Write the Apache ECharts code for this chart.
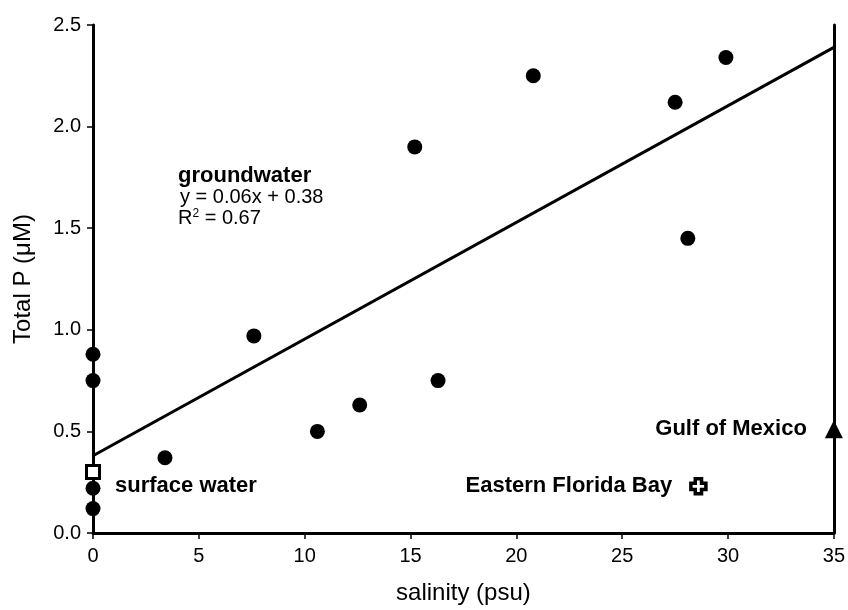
<!DOCTYPE html>
<html>
<head>
<meta charset="utf-8">
<script src="https://cdn.jsdelivr.net/npm/echarts@6/dist/echarts.min.js"></script>
<style>
html, body { margin: 0; padding: 0; background: #fff; }
#chart { width: 848px; height: 610px; }
</style>
</head>
<body>
<div id="chart"></div>
<script>
// groundwater samples: [salinity, total P]
var groundwater = [
    [0, 0.88], [0, 0.75], [0, 0.22], [0, 0.12],
    [3.4, 0.37], [7.6, 0.97], [10.6, 0.50], [12.6, 0.63],
    [15.2, 1.90], [16.3, 0.75], [20.8, 2.25], [27.5, 2.12],
    [28.1, 1.45], [29.9, 2.34]
];
var surfaceWater = [[0, 0.30]];
var easternFloridaBay = [[28.6, 0.23]];
var gulfOfMexico = [[35, 0.51]];
// regression line end points (y = 0.06x + 0.38)
var fitLine = [[0, 0.38], [35, 2.39]];
var xTicks = [0, 5, 10, 15, 20, 25, 30, 35];
var yTicks = [0.0, 0.5, 1.0, 1.5, 2.0, 2.5];

var font = 'Liberation Sans, Arial, sans-serif';
var myChart = echarts.init(document.getElementById('chart'));

// thick plus sign used for the Eastern Florida Bay marker
var plusPath = 'path://M3.5,0 L8.5,0 L8.5,3.5 L12,3.5 L12,8.5 L8.5,8.5 L8.5,12 L3.5,12 L3.5,8.5 L0,8.5 L0,3.5 L3.5,3.5 Z';

var option = {
    animation: false,
    backgroundColor: '#fff',
    grid: { left: 93, right: 12, top: 25, bottom: 69, containLabel: false },
    xAxis: {
        type: 'value',
        min: xTicks[0],
        max: xTicks[xTicks.length - 1],
        interval: 5,
        name: 'salinity (psu)',
        nameLocation: 'middle',
        nameGap: 48,
        nameTextStyle: { fontFamily: font, fontSize: 24, color: '#000' },
        axisLine: { lineStyle: { color: '#000', width: 3 } },
        axisTick: { length: 6, lineStyle: { color: '#000', width: 1.5 } },
        axisLabel: { fontFamily: font, fontSize: 20, color: '#000', margin: 13 },
        splitLine: { show: false }
    },
    yAxis: [{
        type: 'value',
        min: yTicks[0],
        max: yTicks[yTicks.length - 1],
        interval: 0.5,
        name: 'Total P (\u03bcM)',
        nameLocation: 'middle',
        nameGap: 58,
        nameTextStyle: { fontFamily: font, fontSize: 24, color: '#000' },
        axisLine: { show: true, lineStyle: { color: '#000', width: 3 } },
        axisTick: { show: true, length: 6, lineStyle: { color: '#000', width: 1.5 } },
        axisLabel: {
            fontFamily: font, fontSize: 20, color: '#000', margin: 12,
            formatter: function (v) { return v.toFixed(1); }
        },
        splitLine: { show: false }
    }, {
        type: 'value',
        position: 'right',
        min: 0,
        max: 2.5,
        axisLine: { show: true, lineStyle: { color: '#000', width: 3 } },
        axisTick: { show: false },
        axisLabel: { show: false },
        splitLine: { show: false }
    }],
    series: [
        {
            type: 'line',
            data: fitLine,
            symbol: 'none',
            lineStyle: { color: '#000', width: 3 },
            z: 2
        },
        {
            type: 'scatter',
            data: groundwater,
            symbol: 'circle',
            symbolSize: 15,
            itemStyle: { color: '#000', opacity: 1 },
            z: 3
        },
        {
            type: 'scatter',
            data: surfaceWater,
            symbol: 'rect',
            symbolSize: 13,
            itemStyle: { color: '#fff', borderColor: '#000', borderWidth: 3, opacity: 1 },
            label: {
                show: true, position: 'right', distance: 14,
                offset: [0, 14],
                formatter: 'surface water',
                fontFamily: font, fontSize: 22, fontWeight: 'bold', color: '#000'
            },
            z: 4
        },
        {
            type: 'scatter',
            data: easternFloridaBay,
            symbol: plusPath,
            symbolSize: 15,
            itemStyle: { color: '#fff', borderColor: '#000', borderWidth: 3.5, opacity: 1 },
            label: {
                show: true, position: 'left', distance: 17,
                formatter: 'Eastern Florida Bay',
                fontFamily: font, fontSize: 22, fontWeight: 'bold', color: '#000'
            },
            z: 4
        },
        {
            type: 'scatter',
            data: gulfOfMexico,
            symbol: 'triangle',
            symbolSize: 18,
            itemStyle: { color: '#000', opacity: 1 },
            label: {
                show: true, position: 'left', distance: 18,
                formatter: 'Gulf of Mexico',
                fontFamily: font, fontSize: 22, fontWeight: 'bold', color: '#000'
            },
            z: 4
        }
    ],
    graphic: [
        {
            type: 'text', left: 178, top: 165,
            style: { text: 'groundwater', font: 'bold 22px ' + font, fill: '#000' }
        },
        {
            type: 'text', left: 180, top: 187,
            style: { text: 'y = 0.06x + 0.38', font: '20px ' + font, fill: '#000' }
        },
        {
            type: 'text', left: 178, top: 208,
            style: {
                text: 'R{sup|2} = 0.67',
                font: '20px ' + font, fill: '#000',
                rich: { sup: { fontSize: 12, verticalAlign: 'top', padding: [0, 0, 9, 0], fontFamily: font } }
            }
        }
    ]
};

myChart.setOption(option);
</script>
</body>
</html>
